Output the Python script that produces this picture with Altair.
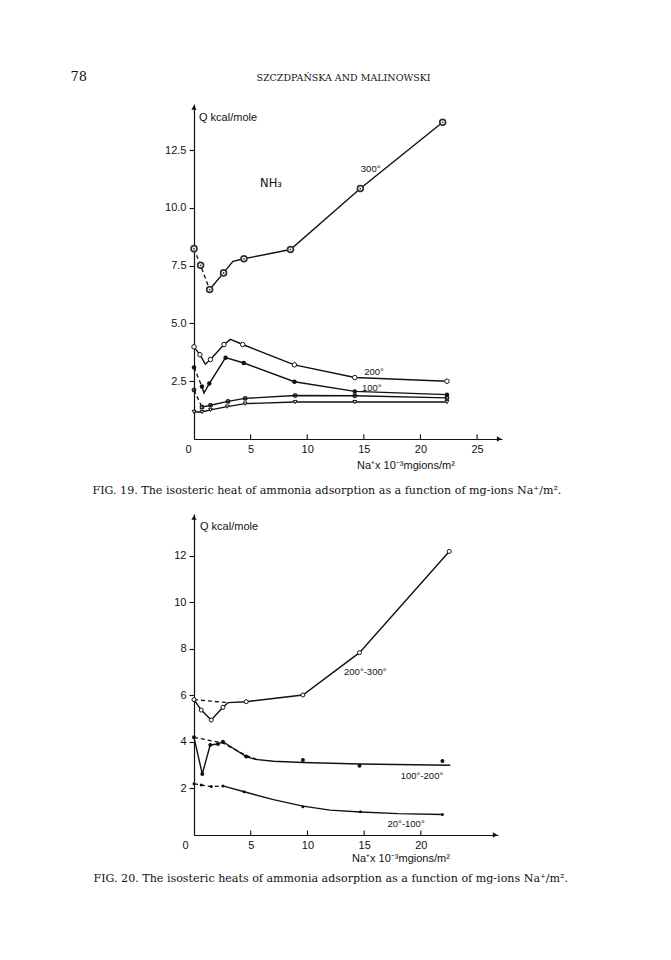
import altair as alt
import pandas as pd

# ---------------- Fig. 19 (NH3) ----------------
x300 = [0, 0.58, 1.38, 2.61, 4.41, 8.52, 14.69, 21.96]
y300 = [8.24, 7.52, 6.47, 7.19, 7.80, 8.20, 10.84, 13.71]
x300_solid = [1.38, 2.61, 3.44, 4.41, 8.52, 14.69, 21.96]
y300_solid = [6.47, 7.19, 7.69, 7.80, 8.20, 10.84, 13.71]
x300_dash = [0, 0.58, 1.38]
y300_dash = [8.24, 7.52, 6.47]

x200 = [0, 0.52, 1.45, 2.65, 4.3, 8.87, 14.2, 22.34]
y200 = [3.99, 3.65, 3.44, 4.09, 4.09, 3.21, 2.66, 2.50]
x200_solid = [0, 0.52, 1.0, 1.45, 2.65, 3.22, 4.3, 8.87, 14.2, 22.34]
y200_solid = [3.99, 3.65, 3.24, 3.44, 4.09, 4.31, 4.09, 3.21, 2.66, 2.50]

x100 = [0, 0.7, 1.35, 2.79, 4.4, 8.87, 14.2, 22.34]
y100 = [3.10, 2.27, 2.40, 3.52, 3.29, 2.48, 2.06, 1.92]
x100_solid = [0.7, 0.88, 1.35, 2.79, 4.4, 8.87, 14.2, 22.34]
y100_solid = [2.27, 1.99, 2.40, 3.52, 3.29, 2.48, 2.06, 1.92]
x100_dash = [0, 0.7]
y100_dash = [3.10, 2.27]

xcr = [0, 0.7, 1.46, 3.0, 4.52, 8.93, 14.2, 22.34]
ycr = [2.12, 1.38, 1.46, 1.63, 1.76, 1.88, 1.87, 1.78]
xcr_solid = [0.7, 1.46, 3.0, 4.52, 8.93, 14.2, 22.34]
ycr_solid = [1.38, 1.46, 1.63, 1.76, 1.88, 1.87, 1.78]
xcr_dash = [0, 0.7]
ycr_dash = [2.12, 1.38]

xtr = [0, 0.7, 1.46, 2.94, 4.52, 8.93, 14.2, 22.34]
ytr = [1.17, 1.17, 1.26, 1.40, 1.53, 1.60, 1.60, 1.60]

labels19 = ["300°", "200°", "100°"]
labels19_x = [15.6, 15.9, 15.7]
labels19_y = [11.7, 2.89, 2.22]
gas_label = "NH₃"
gas_x = [6.8]
gas_y = [11.05]

x_ticks19 = [5, 10, 15, 20, 25]
y_ticks19 = [2.5, 5.0, 7.5, 10.0, 12.5]

# ---------------- Fig. 20 ----------------
xa = [0, 0.64, 1.52, 2.55, 4.6, 9.6, 14.59, 22.5]
ya = [5.82, 5.37, 4.94, 5.49, 5.73, 6.02, 7.84, 12.19]
xa_solid = [0, 0.64, 1.52, 2.55, 3.0, 4.6, 9.6, 14.59, 22.5]
ya_solid = [5.82, 5.37, 4.94, 5.49, 5.69, 5.73, 6.02, 7.84, 12.19]
xa_dash = [0, 3.0]
ya_dash = [5.82, 5.69]

xb = [0, 0.73, 1.43, 2.11, 2.55, 4.6, 9.6, 14.59, 21.9]
yb = [4.20, 2.62, 3.87, 3.91, 4.01, 3.37, 3.22, 2.98, 3.18]
xb_solid = [0, 0.73, 1.43, 2.11, 2.55, 4.6, 5.4, 7.0, 9.6, 14.59, 22.6]
yb_solid = [4.20, 2.62, 3.87, 3.91, 4.01, 3.37, 3.25, 3.17, 3.12, 3.05, 3.0]
xb_dash = [0, 2.55, 4.6, 5.6]
yb_dash = [4.20, 3.95, 3.42, 3.24]

xc = [0, 0.64, 1.52, 2.55, 4.42, 9.6, 14.68, 21.9]
yc = [2.20, 2.15, 2.08, 2.11, 1.86, 1.21, 1.00, 0.88]
xc_solid = [2.55, 4.42, 7.0, 9.6, 12.0, 14.68, 18.0, 21.9]
yc_solid = [2.11, 1.86, 1.52, 1.24, 1.07, 0.99, 0.92, 0.88]
xc_dash = [0, 0.64, 1.52, 2.55]
yc_dash = [2.20, 2.15, 2.08, 2.11]

labels20 = ["200°-300°", "100°-200°", "20°-100°"]
labels20_x = [15.1, 20.1, 18.7]
labels20_y = [7.0, 2.52, 0.47]

x_ticks20 = [5, 10, 15, 20]
y_ticks20 = [2, 4, 6, 8, 10, 12]

# ---------------- page texts ----------------
page_no = "78"
running_head = "SZCZDPAŃSKA AND MALINOWSKI"
caption19 = "FIG. 19. The isosteric heat of ammonia adsorption as a function of mg-ions Na⁺/m²."
caption20 = "FIG. 20. The isosteric heats of ammonia adsorption as a function of mg-ions Na⁺/m²."
y_title = "Q kcal/mole"
x_title = "Na⁺x 10⁻³mgions/m²"

SANS = "Liberation Sans"
SERIF = "DejaVu Serif"
INK = "#111111"


def df(xs, ys, name="s"):
    return pd.DataFrame({"x": xs, "y": ys, "s": name})


def build_fig(xmax, ymax, width, height, xticks, yticks, yfmt,
              solids, dashes, markers, labels, lab_x, lab_y,
              texts, zero_offset, extra_labels=()):
    X = alt.X("x:Q", scale=alt.Scale(domain=[0, xmax], nice=False, zero=False),
              axis=alt.Axis(values=[0] + xticks, ticks=False, grid=False, title=None,
                            labelFont=SANS, labelFontSize=11, labelColor=INK,
                            labelPadding=4, domainColor=INK, domainWidth=1.2,
                            labelAlign={"condition": {"test": "datum.value === 0", "value": "right"},
                                        "value": "center"},
                            labelOffset={"condition": {"test": "datum.value === 0", "value": zero_offset},
                                         "value": 0},
                            labelFlush=False, labelOverlap=False))
    Y = alt.Y("y:Q", scale=alt.Scale(domain=[0, ymax], nice=False, zero=False),
              axis=alt.Axis(values=yticks, format=yfmt, grid=False, title=None,
                            labelFont=SANS, labelFontSize=11, labelColor=INK,
                            tickSize=5, tickColor=INK, tickWidth=1.1, labelPadding=3,
                            domainColor=INK, domainWidth=1.2, labelFlush=False,
                            labelOverlap=False))

    layers = []
    for d in solids:
        layers.append(alt.Chart(d).mark_line(color=INK, strokeWidth=1.4)
                      .encode(x=X, y=Y, detail="s:N"))
    for d in dashes:
        layers.append(alt.Chart(d).mark_line(color=INK, strokeWidth=1.3, strokeDash=[4, 3])
                      .encode(x=X, y=Y, detail="s:N"))
    for d, props in markers:
        layers.append(alt.Chart(d).mark_point(**props).encode(x=X, y=Y))

    # inward x ticks
    tick_df = pd.DataFrame({"x": xticks, "y": [0] * len(xticks), "y2": [ymax * 0.014] * len(xticks)})
    layers.append(alt.Chart(tick_df).mark_rule(color=INK, strokeWidth=1.1)
                  .encode(x=X, y=Y, y2="y2:Q"))

    # arrow heads
    layers.append(alt.Chart(pd.DataFrame({"x": [0], "y": [ymax - 0.15]}))
                  .mark_point(shape="triangle-up", filled=True, color=INK, size=28, opacity=1)
                  .encode(x=X, y=Y))
    layers.append(alt.Chart(pd.DataFrame({"x": [xmax - 0.25], "y": [0]}))
                  .mark_point(shape="triangle-right", filled=True, color=INK, size=28, opacity=1)
                  .encode(x=X, y=Y))

    lab_df = pd.DataFrame({"x": lab_x, "y": lab_y, "t": labels})
    layers.append(alt.Chart(lab_df).mark_text(font=SANS, fontSize=9.5, color=INK,
                                              align="center", baseline="middle")
                  .encode(x=X, y=Y, text="t:N"))
    for (t, lx, ly, font, size) in extra_labels:
        layers.append(alt.Chart(pd.DataFrame({"x": lx, "y": ly, "t": [t]}))
                      .mark_text(font=font, fontSize=size, color=INK, align="center", baseline="middle")
                      .encode(x=X, y=Y, text="t:N"))

    for (t, px, py, font, size, align) in texts:
        layers.append(alt.Chart(pd.DataFrame({"t": [t]}))
                      .mark_text(font=font, fontSize=size, color=INK, align=align, baseline="middle")
                      .encode(x=alt.value(px), y=alt.value(py), text="t:N"))

    return alt.layer(*layers).properties(width=width, height=height)


pc = {"color": INK, "opacity": 1}
fig19 = build_fig(
    27.2, 14.5, 308, 335, x_ticks19, y_ticks19, ".1f",
    solids=[df(x300_solid, y300_solid), df(x200_solid, y200_solid), df(x100_solid, y100_solid),
            df(xcr_solid, ycr_solid), df(xtr, ytr)],
    dashes=[df(x300_dash, y300_dash), df(x100_dash, y100_dash), df(xcr_dash, ycr_dash)],
    markers=[
        (df(x300, y300), dict(shape="circle", filled=False, size=34, strokeWidth=1.7, fill="white",
                              color="#333333", opacity=1)),
        (df(x300, y300), dict(shape="circle", filled=True, size=3, color="#333333", opacity=1)),
        (df(x200, y200), dict(shape="circle", filled=False, size=20, strokeWidth=1, fill="white", **pc)),
        (df(x100, y100), dict(shape="circle", filled=True, size=20, **pc)),
        (df(xcr, ycr), dict(shape="cross", filled=False, size=14, strokeWidth=1, angle=45, **pc)),
        (df(xtr, ytr), dict(shape="triangle-down", filled=False, size=14, strokeWidth=1, fill="white", **pc)),
    ],
    labels=labels19, lab_x=labels19_x, lab_y=labels19_y,
    extra_labels=[(gas_label, gas_x, gas_y, "DejaVu Sans", 11.5)],
    texts=[
        (page_no, -123.5, -27, SERIF, 13, "left"),
        (running_head, 149.5, -26, SERIF, 9.5, "center"),
        (y_title, 5, 14, SANS, 11, "left"),
        (x_title, 163, 362, SANS, 11, "left"),
        (caption19, -101.5, 387, SERIF, 11.1, "left"),
    ],
    zero_offset=-3,
)

fig20 = build_fig(
    26.8, 13.8, 304, 321, x_ticks20, y_ticks20, "d",
    solids=[df(xa_solid, ya_solid), df(xb_solid, yb_solid), df(xc_solid, yc_solid)],
    dashes=[df(xa_dash, ya_dash), df(xb_dash, yb_dash), df(xc_dash, yc_dash)],
    markers=[
        (df(xa, ya), dict(shape="circle", filled=False, size=16, strokeWidth=1, fill="white", **pc)),
        (df(xb, yb), dict(shape="circle", filled=True, size=16, **pc)),
        (df(xc, yc), dict(shape="circle", filled=True, size=9, **pc)),
    ],
    labels=labels20, lab_x=labels20_x, lab_y=labels20_y,
    texts=[
        (y_title, 6, 13, SANS, 11, "left"),
        (x_title, 158, 345, SANS, 11, "left"),
        (caption20, -100.5, 364.5, SERIF, 11.1, "left"),
    ],
    zero_offset=-6,
)

chart = alt.vconcat(fig19, fig20, spacing=75, bounds="flush").properties(
    padding={"left": 62, "top": 63, "right": 5, "bottom": 5},
    background="white",
).configure_view(stroke=None)

chart.save("out.html", embed_options={"renderer": "svg", "actions": False})
